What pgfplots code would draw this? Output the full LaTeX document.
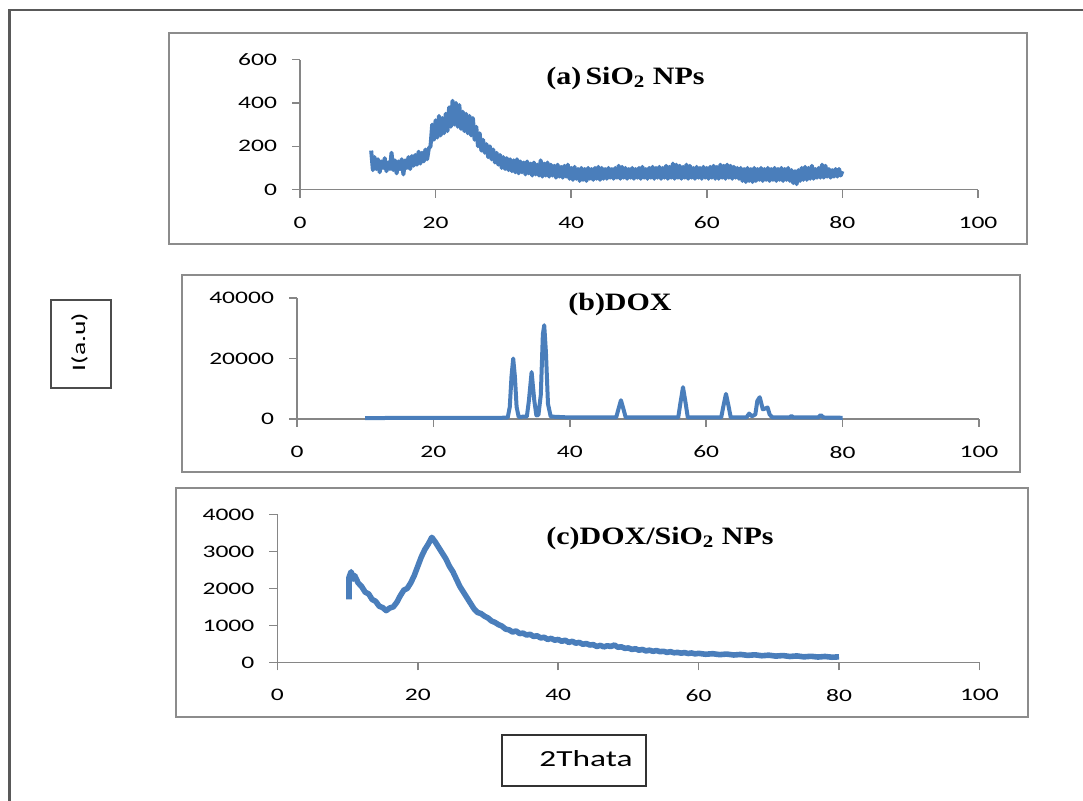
\documentclass[border=0pt]{standalone}
\usepackage{fontspec}
\usepackage{pgfplots}
\pgfplotsset{compat=1.18}
\setmainfont{Liberation Serif}
\newfontfamily\tickfont[FakeStretch=1.45]{Carlito}
\newfontfamily\titlefont[FakeStretch=1.2]{Liberation Serif}
\definecolor{xrdblue}{HTML}{4A7EBB}
\definecolor{axisgray}{HTML}{868686}
\definecolor{boxgray}{HTML}{8C8C8C}

\pgfplotsset{
  panel/.style={
    scale only axis, anchor=south west, clip=false,
    xmin=0, xmax=100, ymin=0,
    axis x line=bottom, axis y line=left,
    axis line style={-, draw=axisgray, line width=0.75pt},
    tick style={draw=axisgray, line width=0.75pt},
    tick align=outside, major tick length=4pt,
    xtick={0,20,...,100}, scaled y ticks=false,
    ticklabel style={font=\tickfont\fontsize{8.8}{10}\selectfont},
    xticklabel style={yshift=-6pt},
    yticklabel style={xshift=-4pt},
    /pgf/number format/assume math mode=true,
    /pgf/number format/1000 sep={},
  },
  xrd/.style={xrdblue, line width=2pt, line join=round, mark=none},
}
\tikzset{ttl/.style={font=\titlefont\bfseries\fontsize{12.5}{14}\selectfont}}

\begin{document}
\begin{tikzpicture}
\useasboundingbox (0,0) rectangle (541.5pt,-400.5pt);
% outer frame
\draw[gray!70!black, line width=1.2pt] (4.8pt,-400.5pt) -- (4.8pt,-5pt) -- (541.5pt,-5pt);
% panel frames
\draw[boxgray, line width=0.75pt] (84.5pt,-16.5pt) rectangle (513.5pt,-122pt);
\draw[boxgray, line width=0.75pt] (91pt,-137.5pt) rectangle (510pt,-236pt);
\draw[boxgray, line width=0.75pt] (88pt,-244pt) rectangle (514pt,-358.5pt);

% (a) SiO2 NPs
\begin{axis}[panel, at={(150pt,-94.8pt)}, width=339pt, height=65pt,
  ymax=600, ytick={0,200,400,600}]
\addplot[xrd, line width=2pt] coordinates {
(10.5,180) (10.75,90) (11,150) (11.25,95) (11.5,140) (11.75,80) (12,130) (12.25,100)
(12.5,145) (12.75,85) (13,125) (13.25,95) (13.5,170) (13.75,90) (14,135) (14.25,75)
(14.5,130) (14.75,95) (15,140) (15.25,70) (15.5,135) (15.75,100) (16,150) (16.25,95)
(16.5,155) (16.75,110) (17,160) (17.25,115) (17.5,175) (17.75,120) (18,170) (18.25,130)
(18.5,185) (18.75,140) (19,190) (19.25,200) (19.5,300) (19.75,230) (20,320) (20.25,240)
(20.5,340) (20.75,250) (21,330) (21.25,260) (21.5,350) (21.75,270) (22,380) (22.25,290)
(22.5,410) (22.75,300) (23,400) (23.25,290) (23.5,390) (23.75,280) (24,360) (24.25,270)
(24.5,350) (24.75,260) (25,340) (25.25,250) (25.5,330) (25.75,230) (26,290) (26.25,200)
(26.5,260) (26.75,180) (27,230) (27.25,170) (27.5,210) (27.75,150) (28,200) (28.25,140)
(28.5,185) (28.75,125) (29,170) (29.25,115) (29.5,160) (29.75,100) (30,150) (30.25,95)
(30.5,145) (30.75,90) (31,140) (31.25,85) (31.5,135) (31.75,80) (32,140) (32.25,75)
(32.5,130) (32.75,80) (33,125) (33.25,70) (33.5,130) (33.75,75) (34,120) (34.25,65)
(34.5,125) (34.75,70) (35,115) (35.25,65) (35.5,135) (35.75,60) (36,120) (36.25,65)
(36.5,125) (36.75,60) (37,115) (37.25,65) (37.5,110) (37.75,55) (38,115) (38.25,60)
(38.5,105) (38.75,55) (39,110) (39.25,60) (39.5,115) (39.75,50) (40,100) (40.25,45)
(40.5,105) (40.75,50) (41,95) (41.25,40) (41.5,100) (41.75,45) (42,95) (42.25,40)
(42.5,100) (42.75,50) (43,95) (43.25,45) (43.5,100) (43.75,50) (44,105) (44.25,45)
(44.5,100) (44.75,50) (45,95) (45.25,50) (45.5,100) (45.75,55) (46,95) (46.25,50)
(46.5,100) (46.75,55) (47,110) (47.25,50) (47.5,105) (47.75,55) (48,100) (48.25,50)
(48.5,95) (48.75,55) (49,100) (49.25,50) (49.5,95) (49.75,55) (50,100) (50.25,50)
(50.5,105) (50.75,55) (51,95) (51.25,50) (51.5,100) (51.75,55) (52,105) (52.25,50)
(52.5,100) (52.75,55) (53,105) (53.25,50) (53.5,100) (53.75,55) (54,110) (54.25,50)
(54.5,105) (54.75,55) (55,120) (55.25,50) (55.5,115) (55.75,55) (56,110) (56.25,50)
(56.5,105) (56.75,55) (57,115) (57.25,50) (57.5,110) (57.75,55) (58,100) (58.25,50)
(58.5,105) (58.75,55) (59,100) (59.25,50) (59.5,105) (59.75,55) (60,100) (60.25,50)
(60.5,105) (60.75,55) (61,110) (61.25,50) (61.5,105) (61.75,50) (62,115) (62.25,55)
(62.5,110) (62.75,50) (63,115) (63.25,55) (63.5,110) (63.75,50) (64,105) (64.25,55)
(64.5,100) (64.75,50) (65,100) (65.25,40) (65.5,95) (65.75,35) (66,100) (66.25,40)
(66.5,95) (66.75,35) (67,100) (67.25,40) (67.5,95) (67.75,45) (68,100) (68.25,40)
(68.5,95) (68.75,45) (69,100) (69.25,40) (69.5,95) (69.75,45) (70,100) (70.25,40)
(70.5,95) (70.75,45) (71,100) (71.25,40) (71.5,95) (71.75,45) (72,100) (72.25,40)
(72.5,90) (72.75,30) (73,85) (73.25,25) (73.5,90) (73.75,40) (74,100) (74.25,45)
(74.5,105) (74.75,45) (75,100) (75.25,50) (75.5,110) (75.75,50) (76,95) (76.25,55)
(76.5,100) (76.75,55) (77,115) (77.25,55) (77.5,110) (77.75,60) (78,95) (78.25,55)
(78.5,90) (78.75,60) (79,95) (79.25,60) (79.5,95) (79.75,65) (80,85)
};
\end{axis}
\node[ttl] at (312.75pt,-39pt) {(a)\,SiO\textsubscript{2} NPs};

% (b) DOX
\begin{axis}[panel, at={(148.5pt,-209.5pt)}, width=341pt, height=60.5pt,
  ymax=40000, ytick={0,20000,40000}]
\addplot[xrd] coordinates {
(10,300) (20,400) (30,400) (30.9,500) (31.2,4000) (31.45,14000) (31.7,20000)
(31.95,14000) (32.2,4000) (32.5,700) (33.7,800) (34.0,6000) (34.4,15500)
(34.8,6000) (35.1,1200) (35.4,1300) (35.75,8000) (36.05,28000) (36.25,31000)
(36.5,22000) (36.8,5000) (37.2,800) (40,500) (46.8,500) (47.1,3000) (47.5,6200)
(47.9,3000) (48.2,500) (55.9,500) (56.2,5000) (56.6,10500) (57.0,5000)
(57.3,500) (62.2,500) (62.5,4000) (62.9,8300) (63.3,4000) (63.6,500)
(65.9,500) (66.3,1800) (66.7,900) (67.2,1500) (67.5,6000) (67.85,7200)
(68.3,3200) (68.7,3500) (69.0,3800) (69.3,1500) (69.7,500) (72.2,500)
(72.5,1000) (72.8,500) (76.4,500) (76.8,1300) (77.2,500) (80,400)
};
\end{axis}
\node[ttl] at (310pt,-152pt) {(b)DOX};

% (c) DOX/SiO2 NPs
\begin{axis}[panel, at={(138.7pt,-331.2pt)}, width=351pt, height=74pt,
  ymax=4000, ytick={0,1000,...,4000}]
\addplot[xrd, line width=2.8pt] coordinates {
(10.2,1700) (10.2,2300) (10.5,2450) (10.8,2250) (11,2350) (11.5,2150)
(12,2050) (12.5,1900) (13,1850) (13.5,1700) (14,1650) (14.5,1520) (15,1480)
(15.5,1400) (16,1470) (16.5,1500) (17,1620) (17.5,1800) (18,1950) (18.5,2000)
(19,2150) (19.5,2350) (20,2600) (20.5,2850) (21,3050) (21.5,3200) (22,3380)
(22.5,3250) (23,3100) (23.5,2950) (24,2800) (24.5,2600) (25,2450) (25.5,2250)
(26,2050) (26.5,1900) (27,1750) (27.5,1600) (28,1450) (28.5,1350) (29,1320)
(29.5,1250) (30,1200) (30.5,1120) (31,1080) (31.5,1020) (32,980) (32.5,900)
(33,880) (33.5,820) (34,850) (34.5,780) (35,790) (35.5,740) (36,760)
(36.5,700) (37,720) (37.5,660) (38,680) (38.5,620) (39,650) (39.5,600)
(40,620) (40.5,570) (41,600) (41.5,540) (42,570) (42.5,520) (43,540)
(43.5,490) (44,510) (44.5,470) (45,480) (45.5,430) (46,460) (46.5,420)
(47,450) (47.5,430) (48,470) (48.5,410) (49,420) (49.5,380) (50,390)
(50.5,350) (51,370) (51.5,330) (52,350) (52.5,310) (53,330) (53.5,300)
(54,320) (54.5,290) (55,300) (55.5,270) (56,290) (56.5,260) (57,270)
(57.5,250) (58,265) (58.5,240) (59,255) (59.5,230) (60,245) (61,220)
(62,235) (63,210) (64,225) (65,200) (66,215) (67,190) (68,205) (69,180)
(70,195) (71,170) (72,185) (73,160) (74,175) (75,150) (76,165) (77,145)
(78,160) (79,140) (80,150)
};
\end{axis}
\node[ttl] at (330pt,-269pt) {(c)DOX/SiO\textsubscript{2} NPs};

% axis title boxes
\draw[gray!60!black, line width=0.6pt] (25.5pt,-150pt) rectangle (55.5pt,-194pt);
\node[rotate=90, font=\tickfont\fontsize{9.5}{11}\selectfont] at (39.75pt,-171pt) {I(a.u)};
\draw[black!80, line width=0.75pt] (251pt,-367.5pt) rectangle (323pt,-393pt);
\node[font=\tickfont\fontsize{11.5}{13}\selectfont] at (293pt,-379.5pt) {2Thata};
\end{tikzpicture}
\end{document}
